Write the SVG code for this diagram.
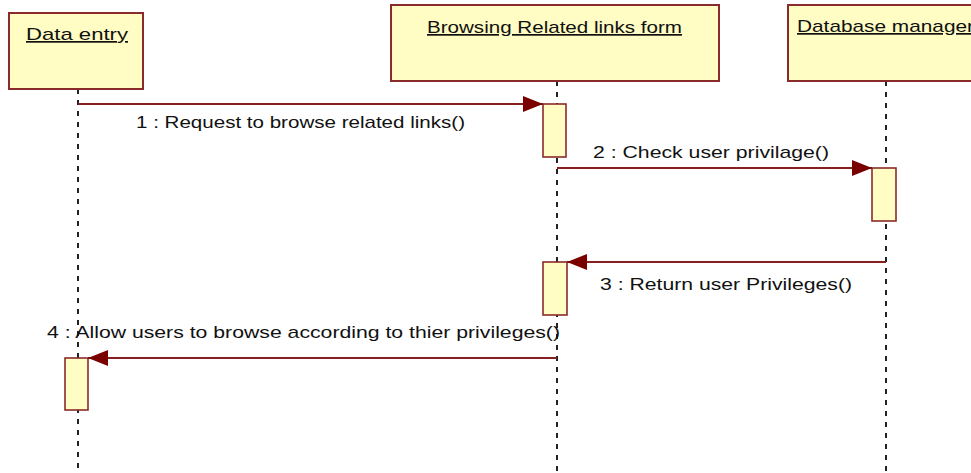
<svg xmlns="http://www.w3.org/2000/svg" width="971" height="473" viewBox="0 0 971 473">
<style>
.box{fill:#fffcc4;stroke:#8a2b2b;stroke-width:2}
.act{fill:#fffcc4;stroke:#8a2b2b;stroke-width:1.6}
.life{stroke:#222;stroke-width:2;stroke-dasharray:5 6;fill:none}
.msg{stroke:#862020;stroke-width:2;fill:none}
.t{font-family:"Liberation Sans",Arial,sans-serif;font-size:17px;fill:#111}
.u{text-decoration:underline}
</style>
<defs>
<marker id="ah" markerUnits="userSpaceOnUse" markerWidth="22" markerHeight="18" refX="20" refY="8" orient="auto">
<path d="M0,0 L20,8 L0,16 Z" fill="#7a0000"/>
</marker>
</defs>
<rect width="971" height="473" fill="#ffffff"/>
<g id="lifelines">
<line class="life" x1="78" y1="89" x2="78" y2="473"/>
<line class="life" x1="557" y1="81" x2="557" y2="473"/>
<line class="life" x1="886" y1="81" x2="886" y2="473"/>
</g>
<g id="data-entry">
<rect class="box" x="9" y="13" width="134" height="76"/>
<text class="t u" x="26" y="40" textLength="102" lengthAdjust="spacingAndGlyphs">Data entry</text>
<rect class="act" x="65" y="358" width="23" height="52"/>
</g>
<g id="browsing-form">
<rect class="box" x="391" y="5" width="328" height="76"/>
<text class="t u" x="427" y="33" textLength="255" lengthAdjust="spacingAndGlyphs">Browsing Related links form</text>
<rect class="act" x="543" y="104" width="23" height="53"/>
<rect class="act" x="543" y="262" width="24" height="53"/>
</g>
<g id="database-manager">
<rect class="box" x="788" y="5" width="200" height="76"/>
<text class="t u" x="797" y="32" textLength="177" lengthAdjust="spacingAndGlyphs">Database manager</text>
<rect class="act" x="872" y="168" width="24" height="53"/>
</g>
<g id="connectors">
<line class="msg" x1="78" y1="104" x2="543" y2="104" marker-end="url(#ah)"/>
<text class="t" x="136" y="128" textLength="329" lengthAdjust="spacingAndGlyphs">1 : Request to browse related links()</text>
<line class="msg" x1="557" y1="168" x2="872" y2="168" marker-end="url(#ah)"/>
<text class="t" x="593" y="158" textLength="236" lengthAdjust="spacingAndGlyphs">2 : Check user privilage()</text>
<line class="msg" x1="886" y1="262" x2="567" y2="262" marker-end="url(#ah)"/>
<text class="t" x="600" y="290" textLength="252" lengthAdjust="spacingAndGlyphs">3 : Return user Privileges()</text>
<line class="msg" x1="557" y1="358" x2="88" y2="358" marker-end="url(#ah)"/>
<text class="t" x="47" y="338" textLength="513" lengthAdjust="spacingAndGlyphs">4 : Allow users to browse according to thier privileges()</text>
</g>
</svg>
